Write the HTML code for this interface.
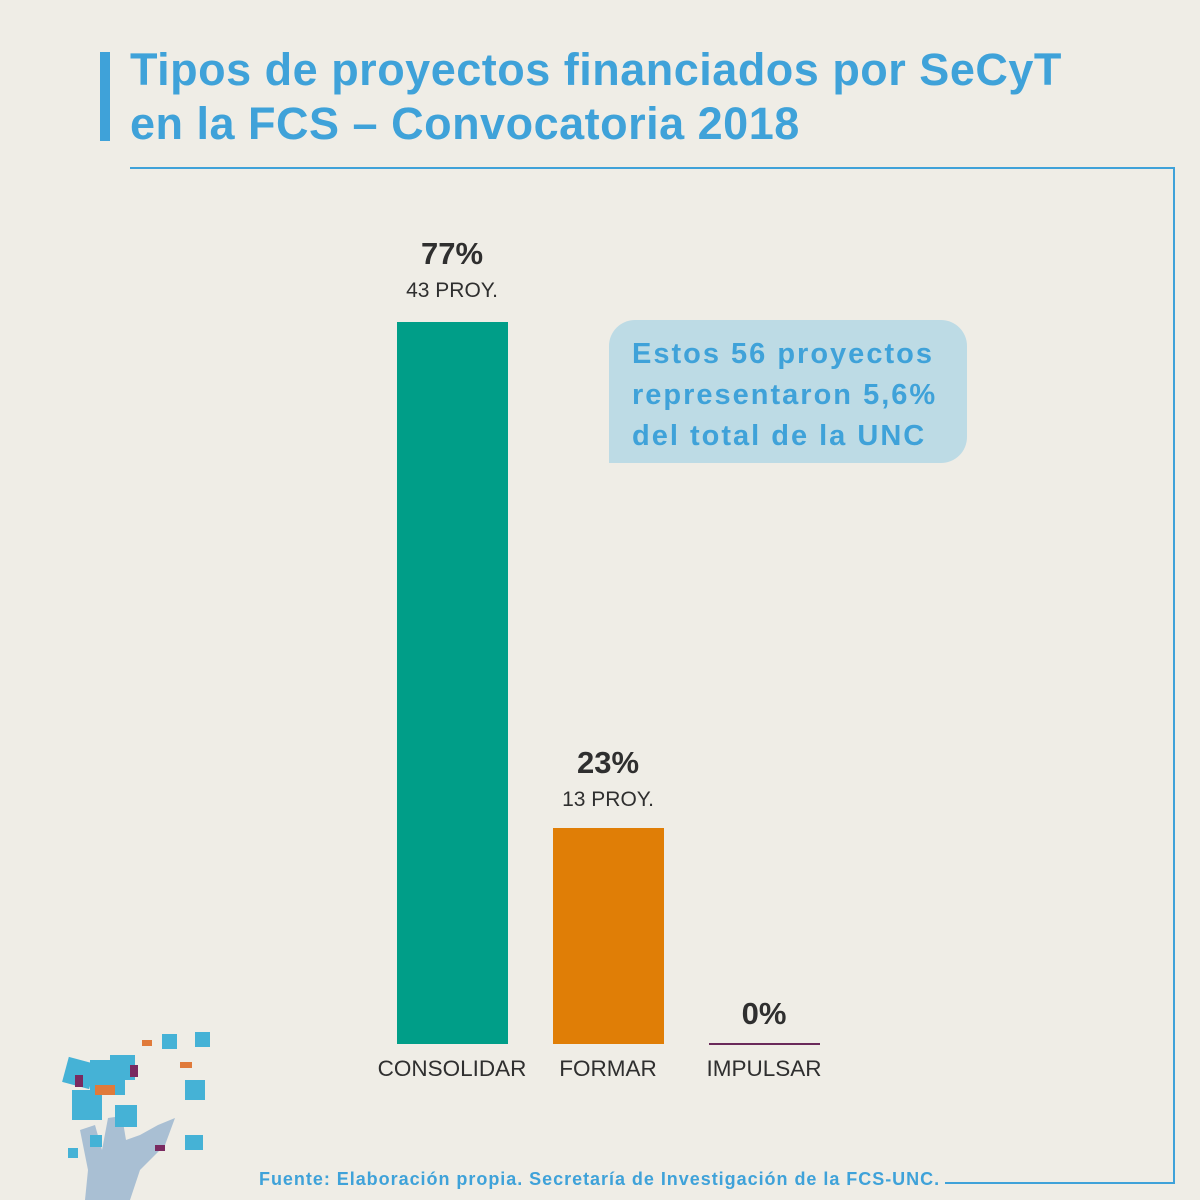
<!DOCTYPE html>
<html><head><meta charset="utf-8"><style>
body{margin:0;width:1200px;height:1200px;background:#efede6;position:relative;overflow:hidden;font-family:"Liberation Sans","DejaVu Sans",sans-serif}
.a{position:absolute}
.t{color:#3fa2d9;font-weight:bold;font-size:45px;letter-spacing:0.5px;line-height:54px;left:130px;top:43px;white-space:nowrap}
.c{text-align:center;color:#2f2f2f}
</style></head><body>
<div class="a" style="left:100px;top:52px;width:10px;height:89px;background:#3fa2d9"></div>
<div class="a t">Tipos de proyectos financiados por SeCyT<br>en la FCS – Convocatoria 2018</div>
<div class="a" style="left:130px;top:167px;width:1045px;height:2px;background:#3fa2d9"></div>
<div class="a" style="left:1173px;top:167px;width:2px;height:1017px;background:#3fa2d9"></div>
<div class="a" style="left:945px;top:1182px;width:230px;height:2px;background:#3fa2d9"></div>

<div class="a" style="left:609px;top:320px;width:358px;height:143px;background:#bddbe5;border-radius:26px 26px 26px 0"></div>
<div class="a" style="left:632px;top:334px;color:#3fa2d9;font-weight:bold;font-size:29px;letter-spacing:2px;line-height:41px;white-space:nowrap">Estos 56 proyectos<br>representaron 5,6%<br>del total de la UNC</div>

<div class="a" style="left:397px;top:322px;width:111px;height:722px;background:#009e88"></div>
<div class="a" style="left:553px;top:828px;width:111px;height:216px;background:#e07e06"></div>
<div class="a" style="left:709px;top:1043px;width:111px;height:2px;background:#6a2a5a"></div>

<div class="a c" style="left:352px;width:200px;top:236px;font-size:31px;font-weight:bold">77%</div>
<div class="a c" style="left:352px;width:200px;top:279px;font-size:21px">43 PROY.</div>
<div class="a c" style="left:508px;width:200px;top:745px;font-size:31px;font-weight:bold">23%</div>
<div class="a c" style="left:508px;width:200px;top:788px;font-size:21px">13 PROY.</div>
<div class="a c" style="left:664px;width:200px;top:996px;font-size:31px;font-weight:bold">0%</div>
<div class="a c" style="left:352px;width:200px;top:1056px;font-size:22.5px">CONSOLIDAR</div>
<div class="a c" style="left:508px;width:200px;top:1056px;font-size:22.5px">FORMAR</div>
<div class="a c" style="left:664px;width:200px;top:1056px;font-size:22.5px">IMPULSAR</div>

<svg class="a" style="left:40px;top:1020px" width="240" height="180">
<path d="M45 180 L48 150 L40 110 L55 105 L62 130 L68 98 L82 96 L86 120 L100 115 L118 105 L135 98 L125 125 L100 150 L90 180Z" fill="#a9bfd3"/>
<g fill="#45b2d6">
<rect x="25" y="40" width="28" height="26" transform="rotate(15 39 53)"/>
<rect x="50" y="40" width="35" height="35"/>
<rect x="32" y="70" width="30" height="30"/>
<rect x="70" y="35" width="25" height="25"/>
<rect x="75" y="85" width="22" height="22"/>
<rect x="145" y="60" width="20" height="20"/>
<rect x="145" y="115" width="18" height="15"/>
<rect x="122" y="14" width="15" height="15"/>
<rect x="155" y="12" width="15" height="15"/>
<rect x="28" y="128" width="10" height="10"/>
<rect x="50" y="115" width="12" height="12"/>
</g>
<g fill="#e07a3a"><rect x="55" y="65" width="20" height="10"/><rect x="140" y="42" width="12" height="6"/><rect x="102" y="20" width="10" height="6"/></g>
<g fill="#7a2a60"><rect x="35" y="55" width="8" height="12"/><rect x="90" y="45" width="8" height="12"/><rect x="115" y="125" width="10" height="6"/></g>
</svg>

<div class="a" style="left:259px;top:1169px;color:#3fa2d9;font-weight:bold;font-size:18px;letter-spacing:0.97px;white-space:nowrap">Fuente: Elaboración propia. Secretaría de Investigación de la FCS-UNC.</div>
</body></html>
